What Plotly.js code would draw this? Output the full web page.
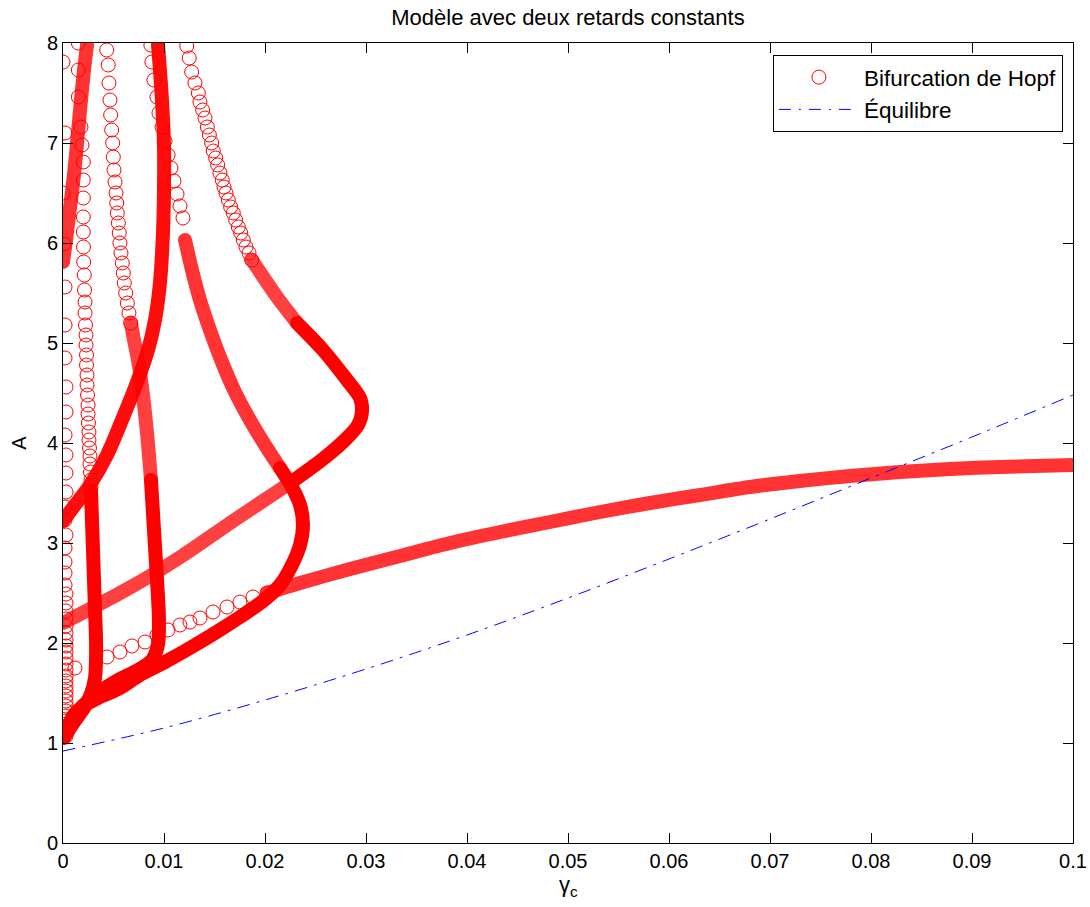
<!DOCTYPE html>
<html>
<head>
<meta charset="utf-8">
<script src="https://cdn.plot.ly/plotly-3.0.1.min.js"></script>
<style>
  html, body { margin: 0; padding: 0; background: #fff; }
  #chart { width: 1090px; height: 907px; }
  /* round the ends of the dense marker bands */
  #chart .scatterlayer path.js-line { stroke-linecap: round; stroke-linejoin: round; }
</style>
</head>
<body>
<div id="chart"></div>
<script>
// Hopf bifurcation branches (gamma_c, A). Dense stretches are drawn as bands,
// sparse stretches as individual open circles.

// Branch hugging the A axis
const axisRingX = [0.0000,0.0002,0.0000,0.0001,0.0002,0.0002,0.0002,0.0003,0.0003,0.0002,0.0003,0.0003,0.0003,0.0002,0.0002,0.0003,0.0002,0.0002,0.0002,0.0002,0.0003,0.0003,0.0003,0.0003,0.0003,0.0003,0.0003,0.0003,0.0003,0.0003,0.0003,0.0003,0.0003,0.0003,0.0003,0.0003,0.0003,0.0003,0.0003,0.0003,0.0003,0.0003,0.0003,0.0003,0.0003];
const axisRingA = [7.81,7.10,6.50,5.99,5.56,5.18,4.85,4.56,4.31,4.08,3.88,3.70,3.51,3.36,3.23,3.08,2.95,2.81,2.70,2.58,2.49,2.40,2.32,2.24,2.17,2.10,2.03,1.97,1.91,1.85,1.79,1.73,1.67,1.62,1.57,1.52,1.47,1.42,1.37,1.32,1.27,1.22,1.17,1.12,1.07];

// Short steep branch from (0, 5.8) to the top
const steepX = [0.0000,0.0003,0.0006,0.00089,0.00119,0.00149,0.00178,0.00208,0.00238];
const steepA = [5.81,6.03,6.28,6.51,6.78,7.11,7.43,7.73,7.98];

// Branch near gamma_c = 0.002-0.003
const nearRingX = [0.00152,0.00152,0.00152,0.00178,0.00188,0.00201,0.00201,0.00201,0.00201,0.00201,0.00203,0.00205,0.00211,0.00213,0.00218,0.00218,0.00223,0.00228,0.00228,0.00233,0.00233,0.00238,0.00238,0.00243,0.00248,0.00248,0.00252,0.00257,0.00257,0.00262,0.00267,0.00267,0.00272,0.00277,0.00277];
const nearRingA = [8.00,7.73,7.46,7.16,6.98,6.81,6.63,6.45,6.26,6.11,5.96,5.81,5.68,5.53,5.41,5.30,5.18,5.08,4.98,4.88,4.78,4.68,4.58,4.48,4.38,4.29,4.20,4.11,4.03,3.95,3.87,3.79,3.71,3.63,3.56];
const nearBandX = [0.00277,0.00287,0.00297,0.00307,0.00317,0.00327,0.00327,0.00317,0.00277,0.00208,0.00109,0.0002];
const nearBandA = [3.53,3.23,2.93,2.63,2.33,2.03,1.83,1.65,1.49,1.35,1.21,1.07];

// Branch falling from (0.0043, 8) to gamma_c ~ 0.0095 and back to the origin
const midRingX = [0.00433,0.00448,0.00455,0.00465,0.00472,0.00482,0.00492,0.00498,0.00505,0.00515,0.00525,0.00532,0.00538,0.00548,0.00557,0.00564,0.00574,0.00587,0.00597,0.00607,0.00621,0.00637,0.00653,0.0067];
const midRingA = [7.93,7.78,7.60,7.43,7.28,7.13,7.00,6.86,6.73,6.61,6.50,6.40,6.30,6.20,6.10,6.00,5.90,5.80,5.70,5.60,5.50,5.40,5.30,5.20];
const midHatchX = [0.00673,0.00703,0.00743,0.00782,0.00832,0.00871];
const midHatchA = [5.20,5.03,4.83,4.56,4.10,3.63];
const midBandX = [0.00871,0.00901,0.00931,0.0095,0.0094,0.00881,0.00743,0.00545,0.00317,0.00119,0.0001];
const midBandA = [3.63,3.13,2.63,2.23,1.98,1.83,1.73,1.63,1.48,1.28,1.08];

// Branch from (0, 3.2) rising to gamma_c ~ 0.0095
const riseX = [0.0000,0.00119,0.00267,0.00436,0.00584,0.00723,0.00842,0.00911,0.0096,0.0099,0.0100,0.0100,0.0098,0.0096,0.0094];
const riseA = [3.22,3.38,3.58,3.88,4.23,4.58,4.93,5.23,5.60,6.10,6.53,6.98,7.43,7.73,7.99];

// S-shaped branch with the fold at gamma_c ~ 0.024
const sBandX = [0.0001,0.00099,0.00218,0.00366,0.00564,0.00762,0.0101,0.01257,0.01505,0.01752,0.0198,0.02149,0.02267,0.02347,0.02376,0.02347,0.02267,0.02149];
const sBandA = [1.05,1.27,1.38,1.46,1.55,1.68,1.81,1.95,2.10,2.26,2.42,2.58,2.78,2.98,3.18,3.38,3.56,3.75];
const sHatchX = [0.02149,0.0200,0.01851,0.01703,0.01574,0.01455,0.01356,0.01277,0.01208];
const sHatchA = [3.75,3.98,4.23,4.51,4.81,5.13,5.43,5.73,6.03];
const sRingX = [0.01188,0.01158,0.01129,0.01099,0.01069,0.0104,0.0101,0.0098,0.0095,0.0093,0.0090,0.0088,0.0087];
const sRingA = [6.25,6.37,6.49,6.62,6.75,6.88,7.02,7.16,7.30,7.46,7.63,7.81,7.98];

// Branch from (0, 2.2) with the fold at gamma_c ~ 0.029
const foldLowX = [0.0000,0.00267,0.00584,0.00861,0.01178,0.01713,0.02248];
const foldLowA = [2.20,2.34,2.51,2.67,2.87,3.24,3.60];
const foldBandX = [0.02248,0.02574,0.02812,0.02921,0.0296,0.02941,0.02812,0.02574,0.02317];
const foldBandA = [3.60,3.84,4.05,4.18,4.31,4.45,4.63,4.93,5.20];
const foldHighX = [0.02317,0.02119,0.0195,0.01871];
const foldHighA = [5.20,5.46,5.71,5.83];
const foldRingX = [0.01225,0.0125,0.01274,0.01307,0.0134,0.01356,0.01383,0.01406,0.01429,0.01449,0.01472,0.01488,0.01512,0.01532,0.01554,0.01577,0.01594,0.01614,0.01637,0.0166,0.01686,0.0171,0.01736,0.0176,0.01785,0.01812,0.01842,0.01868];
const foldRingA = [7.97,7.85,7.71,7.60,7.50,7.41,7.33,7.25,7.16,7.08,7.00,6.92,6.85,6.78,6.70,6.63,6.56,6.50,6.43,6.36,6.30,6.23,6.16,6.10,6.03,5.96,5.90,5.83];

// Long branch running out to gamma_c = 0.1
const longRingX = [0.00119,0.00436,0.00564,0.00683,0.00812,0.00931,0.0104,0.01158,0.01257,0.01356,0.01485,0.01624,0.01752,0.01881,0.0202];
const longRingA = [1.75,1.86,1.91,1.97,2.01,2.08,2.13,2.18,2.21,2.25,2.31,2.36,2.41,2.46,2.50];
const longBandX = [0.0202,0.02347,0.02842,0.03337,0.03832,0.04328,0.04823,0.05318,0.05813,0.06308,0.06802,0.07297,0.07792,0.08287,0.08782,0.09277,0.1];
const longBandA = [2.50,2.60,2.74,2.87,3.00,3.11,3.21,3.31,3.40,3.48,3.56,3.62,3.67,3.71,3.74,3.76,3.78];

// Equilibrium curve
const eqX = [0, 0.01, 0.02, 0.03, 0.04, 0.05, 0.06, 0.07, 0.08, 0.09, 0.1];
const eqA = [0.92, 1.15, 1.43, 1.74, 2.08, 2.45, 2.84, 3.24, 3.65, 4.06, 4.48];

const RED = 'rgb(255,0,0)';
const FONT = 'Liberation Sans, Arial, Helvetica, sans-serif';

function rings(x, y, legend) {
  return {
    x: x, y: y, type: 'scatter', mode: 'markers',
    name: 'Bifurcation de Hopf', legendgroup: 'hopf', showlegend: !!legend,
    marker: { symbol: 'circle-open', size: 14, color: RED, line: { width: 1, color: RED } },
    hoverinfo: 'x+y'
  };
}
function band(x, y, alpha) {
  return {
    x: x, y: y, type: 'scatter', mode: 'lines',
    legendgroup: 'hopf', showlegend: false,
    line: { color: 'rgba(255,0,0,' + alpha + ')', width: 14, shape: 'spline', smoothing: 0.8 },
    hoverinfo: 'x+y'
  };
}

const traces = [
  rings(axisRingX, axisRingA, true),
  band(steepX, steepA, 0.8),
  rings(nearRingX, nearRingA),
  band(nearBandX, nearBandA, 1),
  rings(midRingX, midRingA),
  band(midHatchX, midHatchA, 0.75),
  band(midBandX, midBandA, 1),
  band(riseX, riseA, 0.95),
  band(sBandX, sBandA, 1),
  band(sHatchX, sHatchA, 0.8),
  rings(sRingX, sRingA),
  band(foldLowX, foldLowA, 0.75),
  band(foldBandX, foldBandA, 1),
  band(foldHighX, foldHighA, 0.75),
  rings(foldRingX, foldRingA),
  rings(longRingX, longRingA),
  band(longBandX, longBandA, 0.8),
  {
    x: eqX, y: eqA, type: 'scatter', mode: 'lines', name: 'Équilibre',
    line: { color: 'rgb(0,0,255)', width: 1, dash: '12px,8px,2px,8px', shape: 'spline' }
  }
];

const layout = {
  width: 1090, height: 907,
  margin: { l: 63, r: 17, t: 43, b: 64 },
  paper_bgcolor: '#fff', plot_bgcolor: '#fff',
  font: { family: FONT, size: 20, color: '#000' },
  title: {
    text: 'Modèle avec deux retards constants',
    font: { family: FONT, size: 22, color: '#000' },
    x: 0.5, xref: 'paper', y: 0.981, yref: 'container', yanchor: 'middle'
  },
  xaxis: {
    range: [0, 0.1], tick0: 0, dtick: 0.01,
    showgrid: false, zeroline: false,
    showline: true, linecolor: '#000', linewidth: 1, mirror: 'allticks',
    ticks: 'inside', ticklen: 10, tickcolor: '#000', tickwidth: 1,
    tickfont: { family: FONT, size: 20, color: '#000' }
  },
  yaxis: {
    range: [0, 8], tick0: 0, dtick: 1,
    showgrid: false, zeroline: false,
    showline: true, linecolor: '#000', linewidth: 1, mirror: 'allticks',
    ticks: 'inside', ticklen: 10, tickcolor: '#000', tickwidth: 1,
    tickfont: { family: FONT, size: 20, color: '#000' },
    title: { text: 'A', font: { family: FONT, size: 20, color: '#000' }, standoff: 14 }
  },
  annotations: [{
    text: 'γ<sub>c</sub>', xref: 'paper', yref: 'paper', x: 0.5, y: -0.054,
    xanchor: 'center', yanchor: 'middle', showarrow: false,
    font: { family: FONT, size: 22, color: '#000' }
  }],
  legend: {
    x: 0.99, xanchor: 'right', y: 0.985, yanchor: 'top',
    bgcolor: '#fff', bordercolor: '#000', borderwidth: 1,
    font: { family: FONT, size: 22.5, color: '#000' },
    itemwidth: 80, tracegroupgap: 0
  },
  showlegend: true
};

Plotly.newPlot('chart', traces, layout, { displayModeBar: false, staticPlot: true });
</script>
</body>
</html>
